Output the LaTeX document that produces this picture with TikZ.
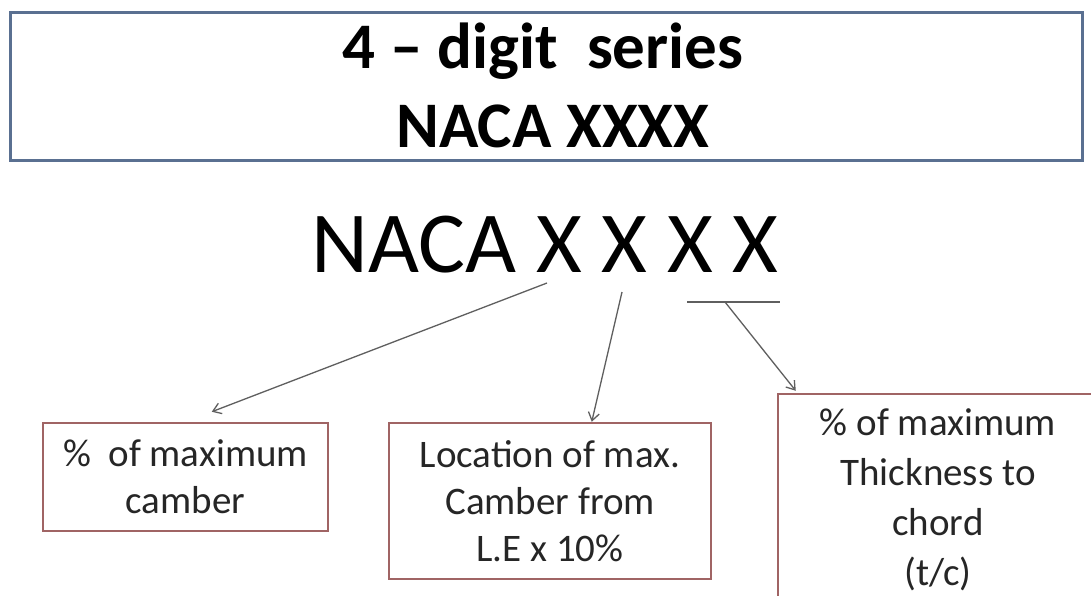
\documentclass[tikz,border=0pt]{standalone}
\usepackage{fontspec}
\setmainfont{Carlito}
\usetikzlibrary{arrows.meta,calc}
\definecolor{topblue}{RGB}{90,112,145}
\definecolor{boxred}{RGB}{160,100,100}
\definecolor{arrowgray}{RGB}{95,95,95}
\begin{document}
\begin{tikzpicture}[x=1pt,y=-1pt,
  titlebox/.style={draw=topblue,line width=3pt,fill=white},
  titletext/.style={anchor=base,inner sep=0pt,font=\bfseries\fontsize{65}{72}\selectfont},
  infobox/.style={draw=boxred,line width=2.5pt,fill=white,align=center,inner sep=0pt,
    font=\fontsize{39}{47}\selectfont,text=black!85},
  pointer/.style={draw=arrowgray,line width=1.3pt,-{Straight Barb[length=8pt,width=11pt,line width=1.3pt]}},
  plainline/.style={draw=arrowgray,line width=1.3pt}]
\useasboundingbox (0,0) rectangle (1091,595);
\fill[white] (0,0) rectangle (1091,595);
% title box
\draw[titlebox] (10,12) rectangle (1082,160);
\node[titletext] (title1) at (543,68) {4 -- digit\ \ series};
\node[titletext] (title2) at (553,147) {NACA XXXX};
% big text
\node[anchor=base west,inner sep=0pt,font=\fontsize{87}{95}\selectfont] (big) at (311,272) {\scalebox{1.012}[1]{NACA X X X X}};
% boxes
\node[infobox,minimum width=285pt,minimum height=108pt] (box1) at (185.5,477) {\%\ \ of maximum\\camber};
\node[infobox,minimum width=322pt,minimum height=156pt] (box2) at (550,501) {Location of max.\\Camber from\\L.E x 10\%};
\node[infobox,minimum width=320pt,minimum height=211pt,font=\fontsize{39}{50}\selectfont] (box3) at (938,499.5) {\% of maximum\\Thickness to\\chord\\(t/c)};
% connector ends
\coordinate (s1) at (547,283);
\coordinate (s2) at (622,292);
\coordinate (l3a) at (687,302);
\coordinate (l3b) at (780,302);
\coordinate (s3) at (725,302);
\draw[pointer] (s1) -- ($(box1.north west)+(170,-10)$);
\draw[pointer] (s2) -- ($(box2.north west)+(204,0)$);
\draw[plainline] (l3a) -- (l3b);
\draw[pointer] (s3) -- ($(box3.north west)+(19,-2)$);
\end{tikzpicture}
\end{document}
